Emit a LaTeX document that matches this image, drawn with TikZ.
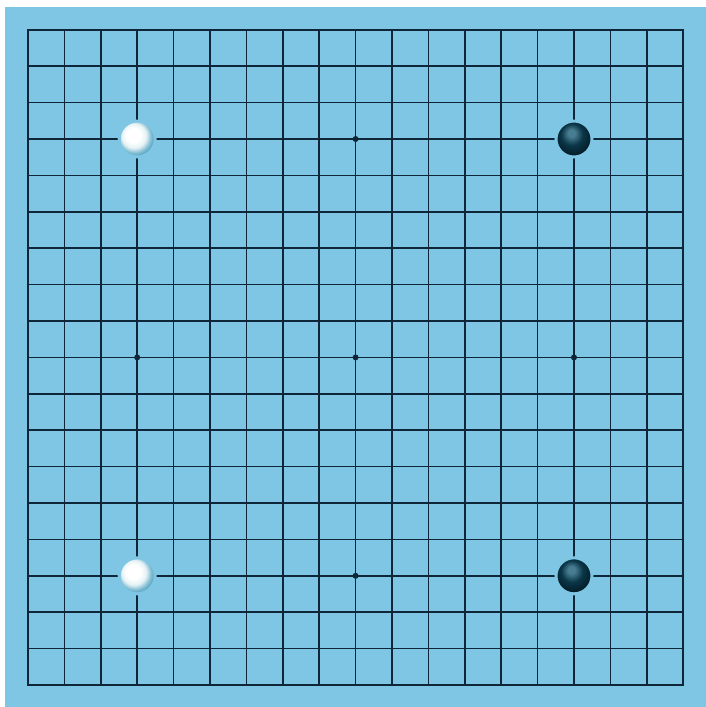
\documentclass[tikz,border=0pt]{standalone}
\usepackage{tikz}
\definecolor{boardblue}{RGB}{126,198,228}
\definecolor{gridnavy}{RGB}{14,38,56}
\definecolor{stonehi}{RGB}{72,124,144}
\definecolor{stonebody}{RGB}{10,54,72}
\definecolor{stoneedge}{RGB}{4,30,42}
\definecolor{whiteshade}{RGB}{86,166,194}
\pgfdeclareradialshading{whitestoneshade}{\pgfpoint{-7bp}{7bp}}{color(0bp)=(white); color(10bp)=(white); color(17bp)=(whiteshade!15!white); color(23bp)=(whiteshade!75!white); color(27bp)=(whiteshade); color(50bp)=(whiteshade)}
\pgfdeclareradialshading{blackstoneshade}{\pgfpoint{-4bp}{9bp}}{color(0bp)=(stonehi); color(5bp)=(stonehi); color(15bp)=(stonebody); color(26bp)=(stoneedge); color(50bp)=(stoneedge)}

\begin{document}
\begin{tikzpicture}[
    x=36.4pt, y=36.4pt,
    gridline/.style={draw=gridnavy, line width=1.5pt, line cap=rect},
    starpoint/.style={circle, fill=gridnavy, inner sep=0pt, minimum size=6pt},
    whitestone/.style={circle, inner sep=0pt, minimum size=36pt, shading=whitestoneshade, draw=boardblue, line width=3pt},
    blackstone/.style={circle, inner sep=0pt, minimum size=36pt, shading=blackstoneshade, draw=boardblue, line width=3pt}
]
\useasboundingbox (-0.769,-0.604) rectangle (18.626,18.819);
\fill[white] (-0.769,-0.604) rectangle (18.626,18.819);
\fill[boardblue] (-0.632,-0.604) rectangle (18.626,18.626);

% 19x19 grid
\foreach \i in {0,...,18} {
  \draw[gridline] (\i,0) -- (\i,18);
  \draw[gridline] (0,\i) -- (18,\i);
}

% star points
\foreach \x/\y [count=\k] in {3/3,9/3,15/3,3/9,9/9,15/9,3/15,9/15,15/15}
  \node[starpoint] (hoshi\k) at (\x,\y) {};

% stones
\node[whitestone] (wtop) at (3,15) {};
\node[blackstone] (btop) at (15,15) {};
\node[whitestone] (wbottom) at (3,3) {};
\node[blackstone] (bbottom) at (15,3) {};
\end{tikzpicture}
\end{document}
